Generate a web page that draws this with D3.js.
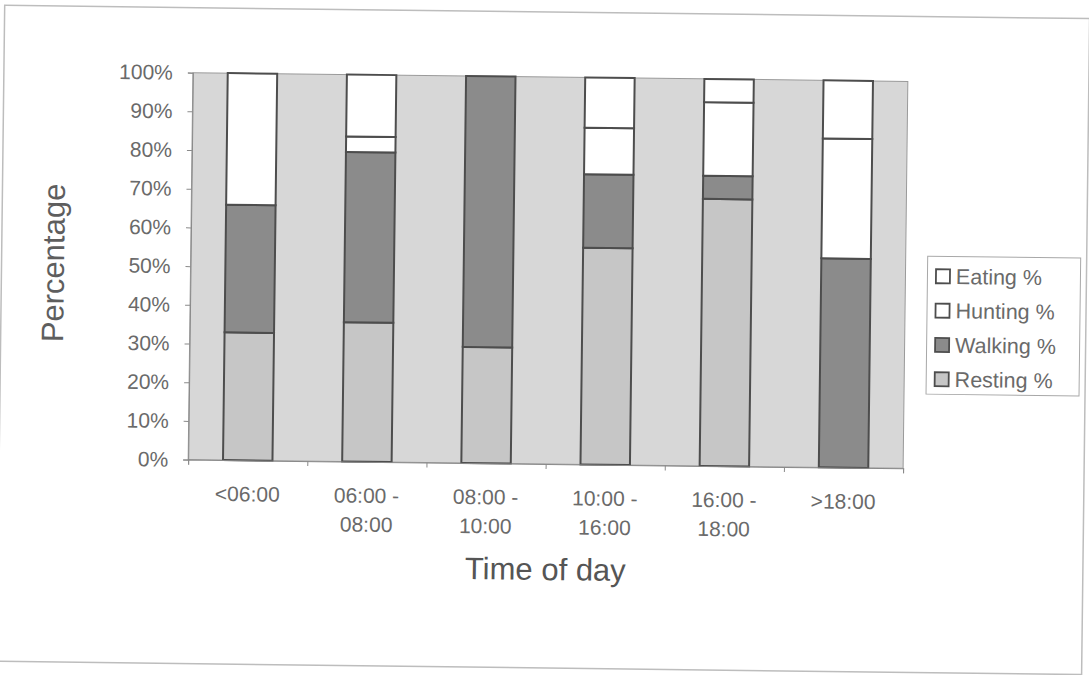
<!DOCTYPE html>
<html>
<head>
<meta charset="utf-8">
<script src="https://cdn.jsdelivr.net/npm/d3@7"></script>
<style>
  html, body { margin: 0; padding: 0; background: #fff; }
  svg text { font-family: "Liberation Sans", Arial, sans-serif; }
</style>
</head>
<body>
<div id="chart"></div>
<script>
// categories (tick labels split into lines)
const categories = ["<06:00", "06:00 - 08:00", "08:00 - 10:00", "10:00 - 16:00", "16:00 - 18:00", ">18:00"];
const tickLines = [["<06:00"], ["06:00 -", "08:00"], ["08:00 -", "10:00"], ["10:00 -", "16:00"], ["16:00 -", "18:00"], [">18:00"]];

// series values, in %
const resting = [33, 36, 30, 56, 69, 0];
const walking = [33, 44, 70, 19, 6, 54];
const hunting = [34, 4, 0, 12, 19, 31];
const eating  = [0, 16, 0, 13, 6, 15];

const seriesNames = ["Resting %", "Walking %", "Hunting %", "Eating %"];
const yTicks = [0, 10, 20, 30, 40, 50, 60, 70, 80, 90, 100];

const fills = {"Resting %": "#c6c6c6", "Walking %": "#8b8b8b", "Hunting %": "#ffffff", "Eating %": "#ffffff"};

const W = 1089, H = 675;
const margin = {left: 190.5, right: 1089 - 905.5, top: 77, bottom: 675 - 464};

const svg = d3.select("#chart").append("svg")
  .attr("width", W)
  .attr("height", H);

// the scanned chart is slightly tilted
const root = svg.append("g").attr("transform", "rotate(0.7,548,270.5)");

// outer chart frame
root.append("rect")
  .attr("x", 1.5).attr("y", 12)
  .attr("width", 1085).attr("height", 656)
  .attr("fill", "none")
  .attr("stroke", "#bdbdbd")
  .attr("stroke-width", 1.5);

const x = d3.scaleBand()
  .domain(categories)
  .range([margin.left, W - margin.right])
  .paddingInner(0.585)
  .paddingOuter(0.2925);

const y = d3.scaleLinear()
  .domain([0, 100])
  .range([H - margin.bottom, margin.top]);

// plot area
root.append("rect")
  .attr("x", margin.left).attr("y", margin.top)
  .attr("width", W - margin.left - margin.right)
  .attr("height", H - margin.top - margin.bottom)
  .attr("fill", "#d7d7d7")
  .attr("stroke", "#9a9a9a")
  .attr("stroke-width", 1);

// stacked data
const rows = categories.map((c, i) => ({
  cat: c,
  "Resting %": resting[i],
  "Walking %": walking[i],
  "Hunting %": hunting[i],
  "Eating %": eating[i]
}));
const stacked = d3.stack().keys(seriesNames)(rows);

root.append("g")
  .selectAll("g")
  .data(stacked)
  .join("g")
  .attr("fill", d => fills[d.key])
  .selectAll("rect")
  .data(d => d.filter(s => s[1] - s[0] > 0))
  .join("rect")
  .attr("x", d => x(d.data.cat))
  .attr("y", d => y(d[1]))
  .attr("width", x.bandwidth())
  .attr("height", d => y(d[0]) - y(d[1]))
  .attr("stroke", "#4d4d4d")
  .attr("stroke-width", 2);

// y axis
const yAxis = root.append("g")
  .attr("transform", `translate(${margin.left},0)`)
  .call(d3.axisLeft(y).tickValues(yTicks).tickFormat(d => d + "%").tickSize(5).tickPadding(15));
yAxis.select(".domain").attr("stroke", "#8a8a8a");
yAxis.selectAll(".tick line").attr("stroke", "#8a8a8a");
yAxis.selectAll("text")
  .attr("fill", "#6a6a6a")
  .style("font-size", "21px");

// x axis: boundary ticks
const xb = d3.scaleLinear().domain([0, categories.length]).range(x.range());
const xAxis = root.append("g")
  .attr("transform", `translate(0,${H - margin.bottom})`)
  .call(d3.axisBottom(xb).tickValues(d3.range(categories.length + 1)).tickFormat("").tickSize(5));
xAxis.select(".domain").attr("stroke", "#8a8a8a");
xAxis.selectAll(".tick line").attr("stroke", "#8a8a8a");

// x tick labels
const labels = root.append("g")
  .selectAll("text")
  .data(categories)
  .join("text")
  .attr("x", d => x(d) + x.bandwidth() / 2)
  .attr("y", H - margin.bottom + 41)
  .attr("text-anchor", "middle")
  .attr("fill", "#6a6a6a")
  .style("font-size", "21px");
labels.selectAll("tspan")
  .data((d, i) => tickLines[i])
  .join("tspan")
  .attr("x", function() { return d3.select(this.parentNode).attr("x"); })
  .attr("dy", (d, i) => i === 0 ? 0 : 29)
  .text(d => d);

// axis titles
root.append("text")
  .attr("x", 549)
  .attr("y", 580)
  .attr("text-anchor", "middle")
  .attr("fill", "#555")
  .style("font-size", "31px")
  .text("Time of day");

root.append("text")
  .attr("transform", "translate(64,269) rotate(-90)")
  .attr("text-anchor", "middle")
  .attr("fill", "#5e5e5e")
  .style("font-size", "31px")
  .text("Percentage");

// legend
const legend = root.append("g");
legend.append("rect")
  .attr("x", 927.5).attr("y", 251.5)
  .attr("width", 153).attr("height", 138)
  .attr("fill", "#fff")
  .attr("stroke", "#a8a8a8")
  .attr("stroke-width", 1);

const legendOrder = seriesNames.slice().reverse();
const ly = d3.scalePoint().domain(legendOrder).range([271.5, 374.5]);
const items = legend.selectAll("g.item")
  .data(legendOrder)
  .join("g")
  .attr("class", "item")
  .attr("transform", d => `translate(936,${ly(d)})`);
items.append("rect")
  .attr("x", 0).attr("y", -7)
  .attr("width", 14).attr("height", 14)
  .attr("fill", d => fills[d])
  .attr("stroke", "#4d4d4d")
  .attr("stroke-width", 1.8);
items.append("text")
  .attr("x", 20)
  .attr("y", 7.5)
  .attr("fill", "#6a6a6a")
  .style("font-size", "21.5px")
  .text(d => d);
</script>
</body>
</html>
